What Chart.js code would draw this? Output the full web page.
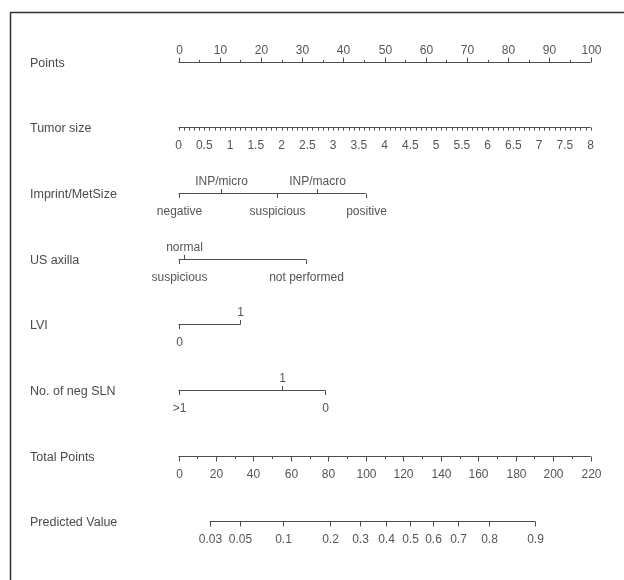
<!DOCTYPE html>
<html lang="en">
<head>
<meta charset="UTF-8">
<title>Nomogram</title>
<script src="https://cdn.jsdelivr.net/npm/chart.js"></script>
<style>
  html, body { margin: 0; padding: 0; background: #fff; }
  #wrap { width: 624px; height: 580px; }
</style>
</head>
<body>
<div id="wrap"><canvas id="nomo" width="624" height="580"></canvas></div>
<script>
// row names, top to bottom
const rowNames = ['Points', 'Tumor size', 'Imprint/MetSize', 'US axilla', 'LVI', 'No. of neg SLN', 'Total Points', 'Predicted Value'];

// Points scale
const pointsTicks = [0, 10, 20, 30, 40, 50, 60, 70, 80, 90, 100];
const pointsMinor = [5, 15, 25, 35, 45, 55, 65, 75, 85, 95];

// Tumor size (cm), 0..8 spans the full points range
const tumorTicks = [0, 0.5, 1, 1.5, 2, 2.5, 3, 3.5, 4, 4.5, 5, 5.5, 6, 6.5, 7, 7.5, 8];
const tumorMinorStep = 0.1;

// categorical predictors: level, points, label above (true) or below
const imprintLevels = ['negative', 'INP/micro', 'suspicious', 'INP/macro', 'positive'];
const imprintPoints = [0, 10.2, 23.8, 33.5, 45.4];
const imprintAbove  = [false, true, false, true, false];

const usLevels = ['suspicious', 'normal', 'not performed'];
const usPoints = [0, 1.3, 31.0];
const usAbove  = [false, true, false];

const lviLevels = ['0', '1'];
const lviPoints = [0, 15.0];
const lviAbove  = [false, true];

const slnLevels = ['>1', '1', '0'];
const slnPoints = [0, 25.0, 35.6];
const slnAbove  = [false, true, false];

// Total points scale
const totalTicks = [0, 20, 40, 60, 80, 100, 120, 140, 160, 180, 200, 220];
const totalMinor = [10, 30, 50, 70, 90, 110, 130, 150, 170, 190, 210];

// Predicted value at total points
const predLabels = ['0.03', '0.05', '0.1', '0.2', '0.3', '0.4', '0.5', '0.6', '0.7', '0.8', '0.9'];
const predTotalPoints = [16.7, 33.0, 55.9, 80.9, 97.1, 110.8, 123.3, 135.7, 149.4, 165.7, 190.4];

const lineColor = '#4d4d4d';
const textColor = '#555';
const nameFont = '12.5px "Liberation Sans", Arial, sans-serif';
const tickFont = '12px "Liberation Sans", Arial, sans-serif';

const nomogramPlugin = {
  id: 'nomogram',
  afterDraw(chart) {
    const ctx = chart.ctx;
    const sx = chart.scales.x, st = chart.scales.xTumor, stot = chart.scales.xTotal, sy = chart.scales.y;
    ctx.save();

    // frame
    ctx.strokeStyle = '#333';
    ctx.lineWidth = 1.5;
    ctx.beginPath();
    ctx.moveTo(10.5, 580);
    ctx.lineTo(10.5, 12.5);
    ctx.lineTo(624, 12.5);
    ctx.stroke();

    // row names
    ctx.fillStyle = '#4a4a4a';
    ctx.font = nameFont;
    ctx.textAlign = 'left';
    ctx.textBaseline = 'middle';
    rowNames.forEach((n, i) => ctx.fillText(n, 30, sy.getPixelForValue(i) + 1.5));

    ctx.strokeStyle = lineColor;
    ctx.lineWidth = 1;
    ctx.font = tickFont;
    ctx.fillStyle = textColor;
    ctx.textAlign = 'center';

    function hline(scale, a, b, row) {
      const y = Math.round(sy.getPixelForValue(row)) + 0.5;
      ctx.beginPath();
      ctx.moveTo(scale.getPixelForValue(a), y);
      ctx.lineTo(scale.getPixelForValue(b), y);
      ctx.stroke();
      return y;
    }
    function tick(scale, v, y, len) {
      const x = Math.round(scale.getPixelForValue(v)) + 0.5;
      ctx.beginPath();
      ctx.moveTo(x, y);
      ctx.lineTo(x, y + len);
      ctx.stroke();
      return x;
    }
    function label(x, y, text, above) {
      ctx.fillText(text, x, above ? y - 12 : y + 18.5);
    }

    // Points
    let y = hline(sx, 0, 100, 0);
    pointsTicks.forEach(v => { const x = tick(sx, v, y, -5); label(x, y, String(v), true); });
    pointsMinor.forEach(v => tick(sx, v, y, -2.5));

    // Tumor size
    y = hline(st, 0, 8, 1);
    for (let k = 0; k <= 80; k++) tick(st, k * tumorMinorStep, y, 3);
    tumorTicks.forEach(v => label(st.getPixelForValue(v), y, String(v), false));

    // categorical rows
    function catRow(levels, pts, above, row) {
      const yy = hline(sx, Math.min(...pts), Math.max(...pts), row);
      levels.forEach((l, i) => {
        const x = tick(sx, pts[i], yy, above[i] ? -4.5 : 4.5);
        label(x, yy, l, above[i]);
      });
    }
    catRow(imprintLevels, imprintPoints, imprintAbove, 2);
    catRow(usLevels, usPoints, usAbove, 3);
    catRow(lviLevels, lviPoints, lviAbove, 4);
    catRow(slnLevels, slnPoints, slnAbove, 5);

    // Total Points
    y = hline(stot, 0, 220, 6);
    totalTicks.forEach(v => { const x = tick(stot, v, y, 5); label(x, y, String(v), false); });
    totalMinor.forEach(v => tick(stot, v, y, 2.5));

    // Predicted Value
    y = hline(stot, predTotalPoints[0], predTotalPoints[predTotalPoints.length - 1], 7);
    predTotalPoints.forEach((v, i) => { const x = tick(stot, v, y, 5); label(x, y, predLabels[i], false); });

    ctx.restore();
  }
};

new Chart(document.getElementById('nomo'), {
  type: 'scatter',
  data: { datasets: [{ data: [] }] },
  options: {
    responsive: false,
    animation: false,
    layout: { padding: { left: 178.5, right: 33.3, top: 61.7, bottom: 58.8 } },
    plugins: { legend: { display: false }, tooltip: { enabled: false } },
    scales: {
      x: { type: 'linear', min: 0, max: 100, display: false },
      xTumor: { type: 'linear', axis: 'x', min: 0, max: 8, display: false },
      xTotal: { type: 'linear', axis: 'x', min: 0, max: 220, display: false },
      y: { type: 'linear', min: 0, max: 7, reverse: true, display: false }
    }
  },
  plugins: [nomogramPlugin]
});
</script>
</body>
</html>
